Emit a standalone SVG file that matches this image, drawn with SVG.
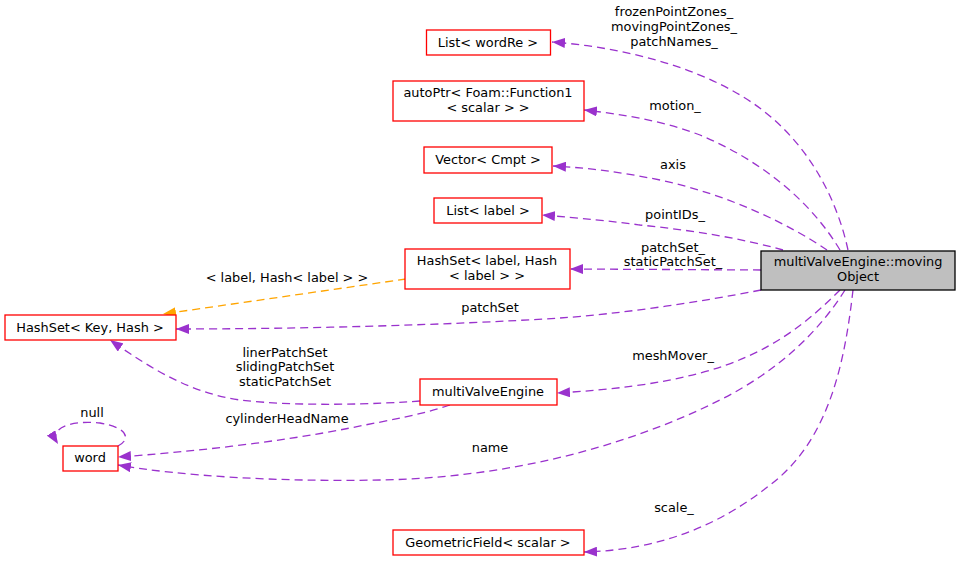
<svg xmlns="http://www.w3.org/2000/svg" width="960" height="561" viewBox="0 0 960 561">
<style>
text{font-family:"DejaVu Sans",sans-serif;font-size:12.9px;fill:#000;text-anchor:middle}
.n{fill:#fff;stroke:#ff0000;stroke-width:1.3}
.m{fill:#bfbfbf;stroke:#000;stroke-width:1.3}
.e{fill:none;stroke:#9a32cd;stroke-width:1.3;stroke-dasharray:8,5;marker-end:url(#ap)}
.o{fill:none;stroke:#ffa500;stroke-width:1.3;stroke-dasharray:8,5;marker-end:url(#ao)}
</style>
<defs>
<marker id="ap" markerUnits="userSpaceOnUse" markerWidth="14" markerHeight="10" refX="13" refY="5" orient="auto">
<path d="M0,0 L13,5 L0,10 Z" fill="#9a32cd"/>
</marker>
<marker id="ao" markerUnits="userSpaceOnUse" markerWidth="14" markerHeight="10" refX="13" refY="5" orient="auto">
<path d="M0,0 L13,5 L0,10 Z" fill="#ffa500"/>
</marker>
</defs>
<rect width="960" height="561" fill="#fff"/>
<g id="connectors">
<path class="e" d="M848,250 C835,190 800,130 740,95 C690,65 620,47 552,42"/>
<path class="e" d="M840,250 C810,200 760,160 700,135 C660,120 620,114 584,110"/>
<path class="e" d="M827,250 C790,225 730,195 660,180 C620,172 590,168 553,166"/>
<path class="e" d="M783,250 C740,238 690,230 640,225 C610,221 580,218 542,215"/>
<path class="e" d="M761,270 L570,269"/>
<path class="e" d="M761,290 C700,302 620,314 560,318 C450,325 300,329 176,329"/>
<path class="o" d="M406,279 L163,314"/>
<path class="e" d="M840,290 C810,320 770,355 700,373 C660,384 610,390 557,393"/>
<path class="e" d="M845,290 C820,330 780,370 720,400 C620,450 500,478 380,480 C280,482 180,476 118,465"/>
<path class="e" d="M853,290 C845,360 830,440 770,485 C720,525 660,550 584,552"/>
<path class="e" d="M420,401 C380,404 300,407 240,400 C190,393 150,368 110,340"/>
<path class="e" d="M450,405 C420,415 390,420 350,428 C280,442 190,452 118,457"/>
<path class="e" d="M118,446 C130,440 130,428 100,423 C70,420 48,428 58,444"/>
</g>
<g id="labels">
<text x="674" y="16">frozenPointZones_</text>
<text x="674" y="31">movingPointZones_</text>
<text x="674" y="46">patchNames_</text>
<text x="675" y="110">motion_</text>
<text x="673" y="169">axis</text>
<text x="675" y="219">pointIDs_</text>
<text x="673" y="252">patchSet_</text>
<text x="673" y="266">staticPatchSet_</text>
<text x="490" y="312">patchSet</text>
<text x="287" y="282">&lt; label, Hash&lt; label &gt; &gt;</text>
<text x="285" y="357">linerPatchSet</text>
<text x="285" y="371">slidingPatchSet</text>
<text x="285" y="386">staticPatchSet</text>
<text x="287" y="423">cylinderHeadName</text>
<text x="92" y="417">null</text>
<text x="673" y="360">meshMover_</text>
<text x="490" y="452">name</text>
<text x="674" y="512">scale_</text>
</g>
<g id="node-listwordre"><rect class="n" x="426.5" y="30" width="124" height="25"/><text x="488" y="47">List&lt; wordRe &gt;</text></g>
<g id="node-autoptr"><rect class="n" x="393" y="81" width="191" height="40"/><text x="488" y="97">autoPtr&lt; Foam::Function1</text><text x="488" y="112">&lt; scalar &gt; &gt;</text></g>
<g id="node-vector"><rect class="n" x="424" y="147" width="128" height="26"/><text x="488" y="164">Vector&lt; Cmpt &gt;</text></g>
<g id="node-listlabel"><rect class="n" x="434" y="198" width="108" height="25"/><text x="488" y="215">List&lt; label &gt;</text></g>
<g id="node-hashsetlabel"><rect class="n" x="405" y="249" width="165" height="40"/><text x="487" y="265">HashSet&lt; label, Hash</text><text x="487" y="280">&lt; label &gt; &gt;</text></g>
<g id="node-movingobject"><rect class="m" x="761" y="251" width="194" height="39"/><text x="858" y="266">multiValveEngine::moving</text><text x="858" y="281">Object</text></g>
<g id="node-hashsetkey"><rect class="n" x="5" y="315" width="171" height="25"/><text x="90" y="332">HashSet&lt; Key, Hash &gt;</text></g>
<g id="node-multivalveengine"><rect class="n" x="420" y="379" width="137" height="26"/><text x="488" y="396">multiValveEngine</text></g>
<g id="node-word"><rect class="n" x="63" y="446" width="55" height="25"/><text x="90" y="462">word</text></g>
<g id="node-geometricfield"><rect class="n" x="393" y="530" width="191" height="25"/><text x="488" y="547">GeometricField&lt; scalar &gt;</text></g>
</svg>
